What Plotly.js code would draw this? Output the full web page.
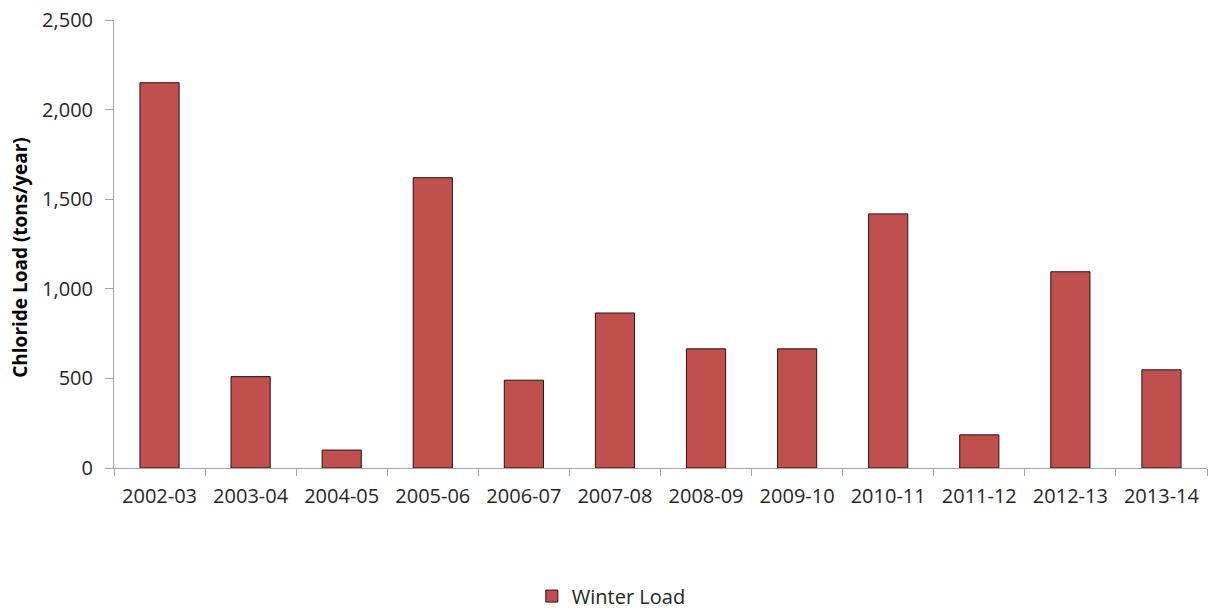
<!DOCTYPE html>
<html><head><meta charset="utf-8">
<script src="https://cdn.plot.ly/plotly-3.0.1.min.js"></script>
<style>html,body{margin:0;padding:0;background:#fff}</style>
</head><body>
<div id="chart" style="width:1211px;height:612px"></div>
<script>
const seasons = ["2002-03","2003-04","2004-05","2005-06","2006-07","2007-08","2008-09","2009-10","2010-11","2011-12","2012-13","2013-14"];
const winterLoad = [2150, 510, 100, 1620, 490, 865, 665, 665, 1418, 185, 1095, 548];
const seriesName = "Winter Load";
const yTitle = "Chloride Load (tons/year)";

const trace = {
  type: 'bar', x: seasons, y: winterLoad, name: seriesName,
  marker: {color: '#C0504D', line: {color: '#2b1010', width: 1}},
  showlegend: true
};
const layout = {
  width: 1211, height: 612,
  margin: {l: 114, r: 4, t: 20, b: 144, autoexpand: false},
  paper_bgcolor: '#fff', plot_bgcolor: '#fff',
  bargap: 0.57,
  font: {family: 'Open Sans, Liberation Sans, sans-serif', size: 20, color: '#262626'},
  xaxis: {
    type: 'category', showline: true, linecolor: '#a6a6a6', linewidth: 1,
    ticks: 'outside', tickson: 'boundaries', ticklen: 7, tickcolor: '#a6a6a6',
    showgrid: false, tickfont: {size: 20}, zeroline: false, ticklabelstandoff: 10
  },
  yaxis: {
    range: [0, 2500], dtick: 500, tickformat: ',d',
    showline: true, linecolor: '#a6a6a6', linewidth: 1,
    ticks: 'outside', ticklen: 8, tickcolor: '#a6a6a6', ticklabelstandoff: 8,
    showgrid: false, zeroline: false, tickfont: {size: 20}
  },
  annotations: [{
    text: '<b>' + yTitle + '</b>', textangle: -90, showarrow: false,
    xref: 'paper', yref: 'paper', x: -0.0862, y: 0.471, xanchor: 'center', yanchor: 'middle',
    font: {size: 19, color: '#000'}
  }],
  legend: {orientation: 'h', x: 0.455, xanchor: 'center', y: 0.026, yanchor: 'middle', yref: 'container',
           font: {size: 20}},
};
Plotly.newPlot('chart', [trace], layout, {displayModeBar: false, staticPlot: true});
</script>
</body></html>
